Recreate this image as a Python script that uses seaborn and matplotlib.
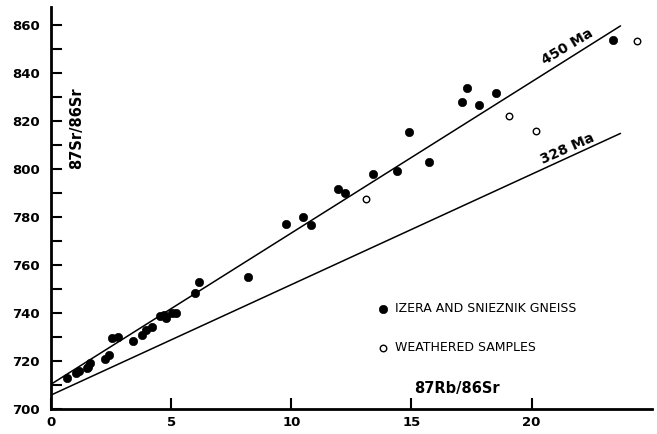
import numpy as np
import pandas as pd
import seaborn as sns
import matplotlib.pyplot as plt
from matplotlib.ticker import MultipleLocator, FixedLocator

# Datos (87Rb/86Sr, 87Sr/86Sr x1000)
gneiss_x = [0.67, 1.04, 1.17, 1.5, 1.54, 1.62, 2.25, 2.4, 2.54, 2.8, 3.42, 3.8,
            3.96, 4.2, 4.54, 4.7, 4.8, 5.04, 5.2, 6.0, 6.17, 8.2, 9.8, 10.5,
            10.8, 11.96, 12.25, 13.4, 14.4, 14.9, 15.75, 17.1, 17.3, 17.8,
            18.5, 23.4]
gneiss_y = [713, 715, 716, 717, 717.5, 719, 721, 722.5, 729.5, 730, 728.3, 731,
            733, 734, 738.7, 739, 738, 740, 740, 748.3, 753, 755, 777, 780,
            776.7, 791.7, 790, 798, 799, 815.4, 803, 828, 833.7, 826.7,
            831.7, 853.7]
weathered_x = [13.1, 19.05, 20.2, 24.4]
weathered_y = [787.5, 822, 816, 853.3]

# Isocronas: edad, razon inicial, pendiente
iso_ages = ['450 Ma', '328 Ma']
iso_intercept = [710.3, 705.8]
iso_slope = [6.3, 4.6]
iso_xmax = 23.7

x_ticks = [0, 5, 10, 15, 20]

gn = pd.DataFrame({'rbsr': gneiss_x, 'srsr': gneiss_y})
we = pd.DataFrame({'rbsr': weathered_x, 'srsr': weathered_y})
rows = []
for age, b, m in zip(iso_ages, iso_intercept, iso_slope):
    for x in [0, iso_xmax]:
        rows.append({'rbsr': x, 'srsr': b + m * x, 'edad': age})
iso = pd.DataFrame(rows)

sns.set_style("ticks", {'text.color': 'black', 'axes.labelcolor': 'black',
                        'xtick.color': 'black', 'ytick.color': 'black',
                        'axes.edgecolor': 'black'})
plt.rcParams['font.family'] = ['DejaVu Sans']
fig = plt.figure(figsize=(6.57, 4.34), dpi=100)
ax = fig.add_axes([0.0776, 0.0576, 0.9144, 0.9264])

sns.lineplot(data=iso, x='rbsr', y='srsr', units='edad', estimator=None,
             color='black', linewidth=1.1, ax=ax)
sns.scatterplot(data=gn, x='rbsr', y='srsr', color='black', s=36,
                edgecolor='black', label='IZERA AND SNIEZNIK GNEISS', ax=ax)
sns.scatterplot(data=we, x='rbsr', y='srsr', facecolor='white', s=22,
                edgecolor='black', linewidth=1.0, marker='o',
                label='WEATHERED SAMPLES', ax=ax)

ax.set_xlim(0, 25)
ax.set_ylim(700, 867.5)
ax.xaxis.set_major_locator(FixedLocator(x_ticks))
ax.yaxis.set_major_locator(MultipleLocator(20))
ax.yaxis.set_minor_locator(MultipleLocator(10))
ax.tick_params(axis='both', which='both', direction='in', length=8, width=1.5,
               labelsize=9.5, colors='black')
ax.tick_params(axis='y', pad=8)
ax.tick_params(axis='x', pad=5)
for lab in ax.get_xticklabels() + ax.get_yticklabels():
    lab.set_fontweight('bold')
sns.despine(ax=ax)
for sp in ['left', 'bottom']:
    ax.spines[sp].set_linewidth(2)

ax.set_xlabel('')
ax.set_ylabel('')
ax.text(16.9, 708.5, '87Rb/86Sr', fontsize=10.5, fontweight='bold', ha='center', va='center')
ax.text(1.05, 817, '87Sr/86Sr', fontsize=10.5, fontweight='bold', rotation=90,
        ha='center', va='center')

ax.text(21.5, 851, '450 Ma', fontsize=10, fontweight='bold', rotation=31,
        ha='center', va='center', rotation_mode='anchor')
ax.text(21.5, 808.5, '328 Ma', fontsize=10, fontweight='bold', rotation=24,
        ha='center', va='center', rotation_mode='anchor')

ax.legend(loc='upper left', bbox_to_anchor=(0.543, 0.266), frameon=False,
          labelspacing=2.1, handletextpad=0.45, handlelength=1.0,
          borderpad=0, borderaxespad=0, prop={'size': 9})

fig.savefig('out.png', dpi=100)
